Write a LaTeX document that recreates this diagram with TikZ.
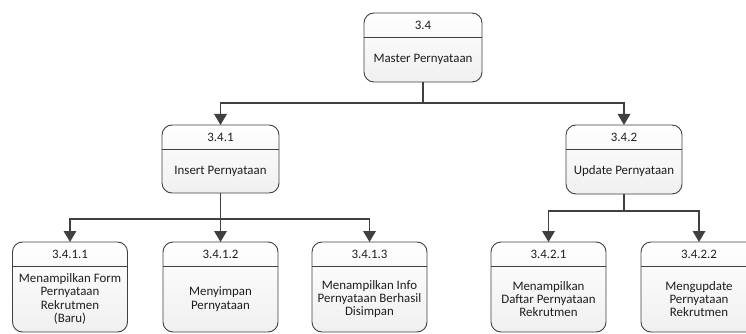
\documentclass[tikz,border=0pt]{standalone}
\usepackage{fontspec}
\setmainfont{Carlito}
\usetikzlibrary{arrows.meta}
\definecolor{linegray}{HTML}{404040}
\definecolor{txtgray}{HTML}{1E1E1E}
\tikzset{
  x=1pt, y=1pt,
  procbox/.style={draw=linegray, line width=0.9pt, rounded corners=10pt,
    top color=white, bottom color=black!6, inner sep=0pt, outer sep=0pt},
  divider/.style={draw=linegray, line width=0.8pt},
  label/.style={text=txtgray, inner sep=0pt, align=center,
    font=\fontsize{12.9}{13.4}\selectfont},
  link/.style={draw=linegray, line width=1.8pt,
    -{Triangle[length=11pt,width=12.5pt]}},
}
% one process box: name, centre x, top y, bottom y, width, number, title
\newcommand{\procnode}[7]{%
  \node[procbox, minimum width=#5pt, minimum height={(#4)-(#3)}]
    (#1) at (#2,{-((#3)+(#4))/2}) {};
  \draw[divider] ([yshift=-24pt]#1.north west) -- ([yshift=-24pt]#1.north east);
  \node[label] (#1h) at (#2,{-(#3)-12}) {#6};
  \node[label] (#1b) at (#2,{-((#3)+24+(#4))/2}) {#7};
}
\begin{document}
\begin{tikzpicture}
\path[use as bounding box, clip] (0,0) rectangle (746,-334);

\procnode{n34}{423}{13}{82}{118}{3.4}{Master Pernyataan}
\procnode{n341}{220.5}{125}{193}{117}{3.4.1}{Insert Pernyataan}
\procnode{n342}{624}{125}{194}{116}{3.4.2}{Update Pernyataan}

\procnode{n3411}{70}{242}{332}{115}{3.4.1.1}{Menampilkan Form\\Pernyataan\\Rekrutmen\\(Baru)}
\procnode{n3412}{220.5}{242}{332}{115}{3.4.1.2}{Menyimpan\\Pernyataan}
\procnode{n3413}{369.5}{242}{332}{115}{3.4.1.3}{Menampilkan Info\\Pernyataan Berhasil\\Disimpan}
\procnode{n3421}{548.5}{242}{332}{115}{3.4.2.1}{Menampilkan\\Daftar Pernyataan\\Rekrutmen}
\procnode{n3422}{699}{242}{332}{116}{3.4.2.2}{Mengupdate\\Pernyataan\\Rekrutmen}

% level 1
\draw[link] (n34.south) -- ++(0,-21) -| (n341.north);
\draw[link] (n34.south) -- ++(0,-21) -| (n342.north);
% level 2 under 3.4.1
\draw[link] (n341.south) -- ++(0,-26) -| (n3411.north);
\draw[link] (n341.south) -- (n3412.north);
\draw[link] (n341.south) -- ++(0,-26) -| (n3413.north);
% level 2 under 3.4.2
\draw[link] (n342.south) -- ++(0,-17) -| (n3421.north);
\draw[link] (n342.south) -- ++(0,-17) -| (n3422.north);
\end{tikzpicture}
\end{document}
